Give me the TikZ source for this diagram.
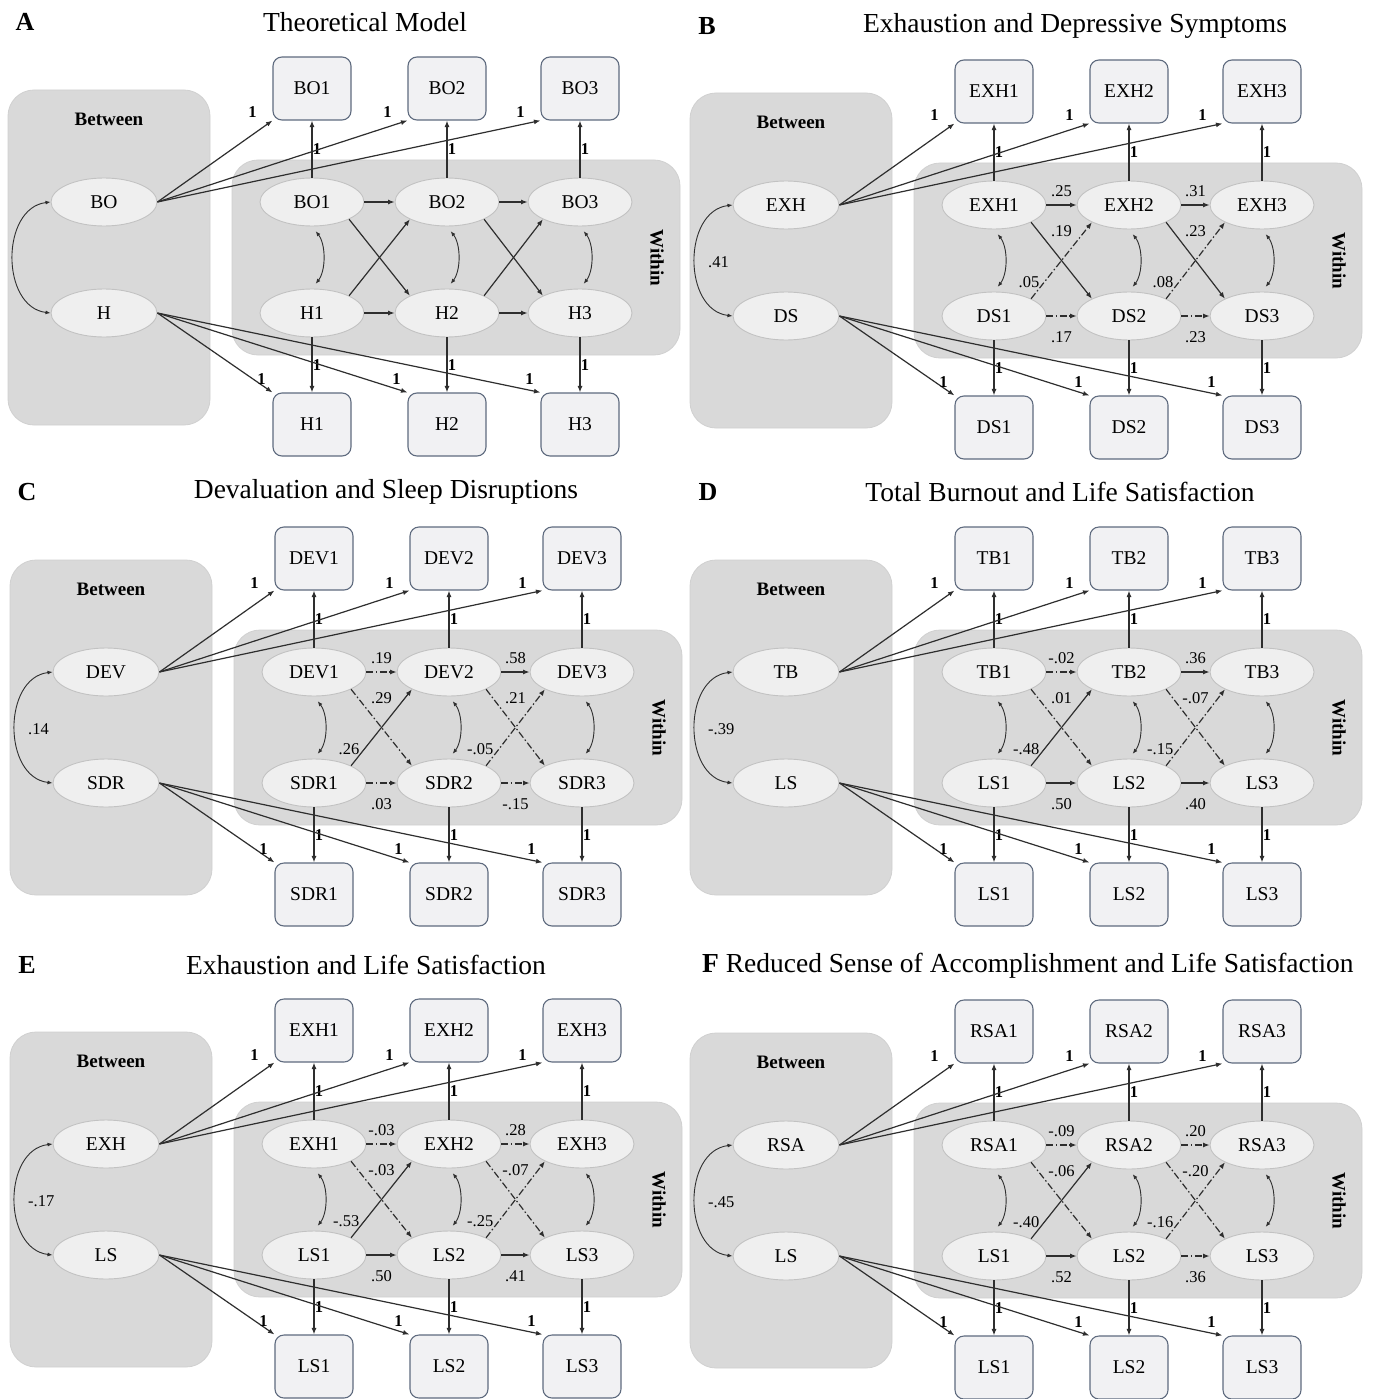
\documentclass[tikz,border=0pt]{standalone}
\usepackage{fontspec}
\setmainfont{Liberation Serif}
\usetikzlibrary{arrows.meta,shapes.geometric,calc}
\definecolor{linecol}{HTML}{2E2E2E}
\definecolor{obsborder}{HTML}{5F6B7F}
\definecolor{obsfill}{HTML}{F1F1F3}
\definecolor{latfill}{HTML}{EFEFEF}
\definecolor{latdraw}{HTML}{C2C2C2}
\definecolor{bgfill}{HTML}{D9D9D9}
\definecolor{bgdraw}{HTML}{D0D0D0}
\tikzset{
 bgbox/.style={rectangle, draw=bgdraw, fill=bgfill, rounded corners=26pt, line width=0.8pt, inner sep=0pt},
 lat/.style={ellipse, draw=latdraw, fill=latfill, line width=0.9pt, minimum width=104pt, minimum height=48pt, inner sep=0pt, font=\fontsize{19.5}{19.5}\selectfont},
 obs/.style={rectangle, rounded corners=9pt, draw=obsborder, fill=obsfill, line width=1.1pt, minimum width=78pt, minimum height=63pt, inner sep=0pt, font=\fontsize{19.5}{19.5}\selectfont},
 conn/.style={draw=linecol, line width=1.2pt, -{Latex[length=6.5pt,width=5pt]}},
 sig/.style={conn},
 ns/.style={conn, dash pattern=on 7pt off 2.5pt on 1.5pt off 2.5pt},
 cov/.style={draw=linecol, line width=0.9pt, {Latex[length=5pt,width=4pt]}-{Latex[length=5pt,width=4pt]}},
 one/.style={font=\bfseries\fontsize{16.5}{16.5}\selectfont, inner sep=0pt},
 val/.style={font=\fontsize{16.5}{16.5}\selectfont, inner sep=0pt},
 hdr/.style={font=\bfseries\fontsize{19}{19}\selectfont, inner sep=0pt},
 ttl/.style={font=\fontsize{27.5}{30}\selectfont, inner sep=0pt},
 letter/.style={font=\bfseries\fontsize{26}{28}\selectfont, inner sep=0pt},
}
\newcommand{\semPanel}[5]{%
\begin{scope}[shift={(#2,#3)}]
\node[bgbox, minimum width=202pt, minimum height=335pt] (#1BW) at (109,257.5) {};
\node[bgbox, minimum width=448pt, minimum height=195pt] (#1WI) at (456,257.5) {};
\node[hdr] (#1BWt) at (109,119) {Between};
\node[hdr, rotate=-90] (#1WIt) at (657,258) {Within};
\node[lat, minimum width=106pt] (#1bt) at (104,202) {#4};
\node[lat, minimum width=106pt] (#1bb) at (104,313) {#5};
\foreach \i/\x in {1/312,2/447,3/580}{
 \node[lat] (#1t\i) at (\x,202) {#4\i};
 \node[lat] (#1b\i) at (\x,313) {#5\i};
 \node[obs] (#1o\i) at (\x,88.5) {#4\i};
 \node[obs] (#1u\i) at (\x,424.5) {#5\i};
 \draw[conn] (#1t\i) -- node[one, midway, xshift=5pt] {1} (#1o\i);
 \draw[conn] (#1b\i) -- node[one, midway, xshift=5pt] {1} (#1u\i);
 \draw[conn] (#1bt.east) -- node[one, pos=1, xshift=-20pt, yshift=8pt] {1} (#1o\i.south west);
 \draw[conn] (#1bb.east) -- node[one, pos=1, xshift=-11pt, yshift=13pt] {1} (#1u\i.north west);
 \draw[cov, shorten <=6pt, shorten >=6pt] (#1t\i.south) .. controls +(14,18) and +(14,-18) .. (#1b\i.north);
}
\draw[cov] (#1bt.west) .. controls +(-50,6) and +(-50,-6) .. (#1bb.west);
\end{scope}}
\newcommand{\covLab}[2]{\node[val, anchor=west] (#1cv) at ($(#1bt)!0.5!(#1bb)+(-78,2)$) {#2};}
\newcommand{\topPaths}[5]{%
 \draw[#2] (#1t1) -- (#1t2);
 \node[val] (#1vt1) at ($(#1t1)!0.5!(#1t2)+(0,-14)$) {#3};
 \draw[#4] (#1t2) -- (#1t3);
 \node[val] (#1vt2) at ($(#1t2)!0.5!(#1t3)+(0,-14)$) {#5};}
\newcommand{\botPaths}[5]{%
 \draw[#2] (#1b1) -- (#1b2);
 \node[val] (#1vb1) at ($(#1b1)!0.5!(#1b2)+(0,21)$) {#3};
 \draw[#4] (#1b2) -- (#1b3);
 \node[val] (#1vb2) at ($(#1b2)!0.5!(#1b3)+(0,21)$) {#5};}
\newcommand{\downPaths}[5]{%
 \draw[#2] (#1t1.-25) -- (#1b2.155);
 \node[val] (#1vd1) at ($(#1t1)!0.5!(#1t2)+(0,26)$) {#3};
 \draw[#4] (#1t2.-25) -- (#1b3.155);
 \node[val] (#1vd2) at ($(#1t2)!0.5!(#1t3)+(0,26)$) {#5};}
\newcommand{\upPaths}[5]{%
 \draw[#2] (#1b1.25) -- (#1t2.205);
 \node[val, anchor=east] (#1vu1) at ($(#1b1)!0.5!(#1b2)+(-22,-34)$) {#3};
 \draw[#4] (#1b2.25) -- (#1t3.205);
 \node[val, anchor=east] (#1vu2) at ($(#1b2)!0.5!(#1b3)+(-22,-34)$) {#5};}
\begin{document}
\begin{tikzpicture}[x=1pt,y=-1pt]
\useasboundingbox (0,0) rectangle (1381,1399);
\fill[white] (0,0) rectangle (1381,1399);
% titles
\node[letter] (Aletter) at (25,22) {A};
\node[ttl] (Atitle) at (365,22) {Theoretical Model};
\node[letter] (Bletter) at (707,26) {B};
\node[ttl] (Btitle) at (1075,26) {Exhaustion and Depressive Symptoms};
\node[letter] (Cletter) at (27,492) {C};
\node[ttl] (Ctitle) at (386,492) {Devaluation and Sleep Disruptions};
\node[letter] (Dletter) at (708,492) {D};
\node[ttl] (Dtitle) at (1060,492) {Total Burnout and Life Satisfaction};
\node[letter] (Eletter) at (27,965) {E};
\node[ttl] (Etitle) at (366,965) {Exhaustion and Life Satisfaction};
\node[ttl, anchor=west] (Ftitle) at (702,966) {\textbf{F} Reduced Sense of Accomplishment and Life Satisfaction};
% panel A
\semPanel{A}{0}{0}{BO}{H}
\draw[conn] (At1) -- (At2);
\draw[conn] (At2) -- (At3);
\draw[conn] (Ab1) -- (Ab2);
\draw[conn] (Ab2) -- (Ab3);
\draw[conn] (At1.-25) -- (Ab2.155);
\draw[conn] (At2.-25) -- (Ab3.155);
\draw[conn] (Ab1.25) -- (At2.205);
\draw[conn] (Ab2.25) -- (At3.205);
% panel B
\semPanel{B}{682}{3}{EXH}{DS}
\covLab{B}{.41}
\topPaths{B}{sig}{.25}{sig}{.31}
\botPaths{B}{ns}{.17}{ns}{.23}
\downPaths{B}{sig}{.19}{sig}{.23}
\upPaths{B}{ns}{.05}{ns}{.08}
% panel C
\semPanel{C}{2}{470}{DEV}{SDR}
\covLab{C}{.14}
\topPaths{C}{ns}{.19}{sig}{.58}
\botPaths{C}{ns}{.03}{ns}{-.15}
\downPaths{C}{ns}{.29}{ns}{.21}
\upPaths{C}{sig}{.26}{ns}{-.05}
% panel D
\semPanel{D}{682}{470}{TB}{LS}
\covLab{D}{-.39}
\topPaths{D}{ns}{-.02}{sig}{.36}
\botPaths{D}{sig}{.50}{sig}{.40}
\downPaths{D}{ns}{.01}{ns}{-.07}
\upPaths{D}{sig}{-.48}{ns}{-.15}
% panel E
\semPanel{E}{2}{942}{EXH}{LS}
\covLab{E}{-.17}
\topPaths{E}{ns}{-.03}{ns}{.28}
\botPaths{E}{sig}{.50}{sig}{.41}
\downPaths{E}{ns}{-.03}{ns}{-.07}
\upPaths{E}{sig}{-.53}{ns}{-.25}
% panel F
\semPanel{F}{682}{943}{RSA}{LS}
\covLab{F}{-.45}
\topPaths{F}{ns}{-.09}{ns}{.20}
\botPaths{F}{sig}{.52}{ns}{.36}
\downPaths{F}{ns}{-.06}{ns}{-.20}
\upPaths{F}{sig}{-.40}{ns}{-.16}
\end{tikzpicture}
\end{document}
